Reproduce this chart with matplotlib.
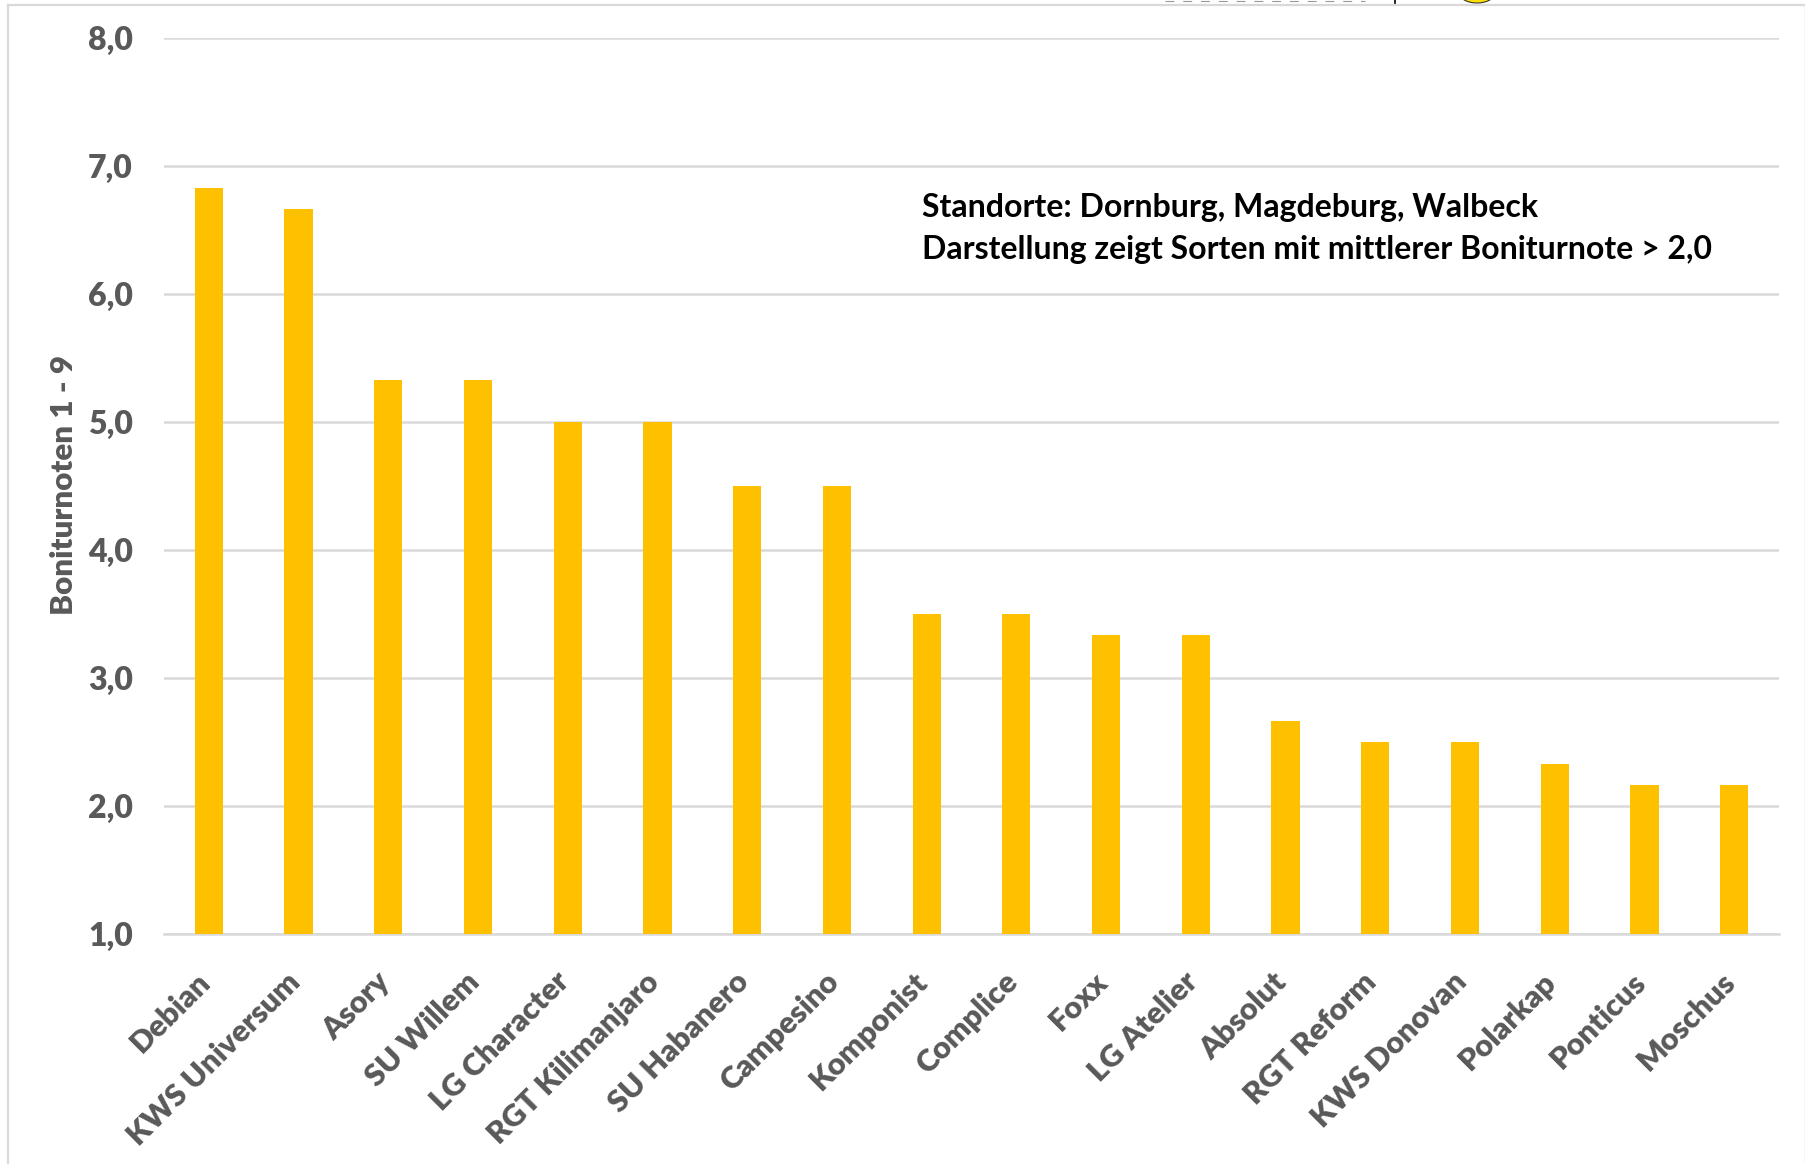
import matplotlib
matplotlib.use('Agg')
import matplotlib.pyplot as plt
from matplotlib.lines import Line2D
from matplotlib.patches import Ellipse
from matplotlib.transforms import ScaledTranslation

sorten = ['Debian', 'KWS Universum', 'Asory', 'SU Willem', 'LG Character',
          'RGT Kilimanjaro', 'SU Habanero', 'Campesino', 'Komponist', 'Complice',
          'Foxx', 'LG Atelier', 'Absolut', 'RGT Reform', 'KWS Donovan',
          'Polarkap', 'Ponticus', 'Moschus']
noten = [6.83, 6.665, 5.33, 5.33, 5.0, 5.0, 4.5, 4.5, 3.5, 3.5,
         3.335, 3.335, 2.665, 2.5, 2.5, 2.33, 2.165, 2.165]
yticks = [1, 2, 3, 4, 5, 6, 7, 8]
ylabels = ['1,0', '2,0', '3,0', '4,0', '5,0', '6,0', '7,0', '8,0']

W, H = 1806, 1164
plt.rcParams['font.family'] = ['Lato', 'DejaVu Sans']
grau = '#595959'
linie = '#D9D9D9'

fig = plt.figure(figsize=(W / 100, H / 100), dpi=100)
ax = fig.add_axes([164 / W, 1 - 934 / H, (1779 - 164) / W, (934 - 38) / H])

ax.bar(range(len(noten)), noten, width=0.315, color='#FFC000', zorder=3)
ax.set_xlim(-0.5, 17.5)
ax.set_ylim(1, 8)

ax.set_yticks(yticks)
ax.set_yticklabels(ylabels, fontsize=23, fontweight='heavy', color=grau)
ax.set_xticks(range(len(sorten)))
ax.set_xticklabels(sorten, fontsize=22.2, fontweight='heavy', color=grau,
                   rotation=45, ha='right', va='top', rotation_mode='anchor')
ax.tick_params(axis='y', length=0, pad=22.5)
ax.tick_params(axis='x', length=0, pad=24)
# labels etwas nach links
versatz = ScaledTranslation(-13 / 100, 0, fig.dpi_scale_trans)
for lab in ax.get_xticklabels():
    lab.set_transform(lab.get_transform() + versatz)
ax.grid(axis='y', color=linie, lw=1.8, zorder=0)
for s in ['top', 'right', 'left']:
    ax.spines[s].set_visible(False)
ax.spines['bottom'].set_color(linie)
ax.spines['bottom'].set_linewidth(1.8)

fig.text(64 / W, 1 - 485 / H, 'Boniturnoten 1 - 9', rotation=90, fontsize=22.6,
         fontweight='heavy', color=grau, ha='center', va='center')
fig.text(922 / W, 1 - 207 / H, 'Standorte: Dornburg, Magdeburg, Walbeck', fontsize=23,
         fontweight='bold', color='black', ha='left', va='center')
fig.text(922 / W, 1 - 249 / H, 'Darstellung zeigt Sorten mit mittlerer Boniturnote > 2,0',
         fontsize=23, fontweight='bold', color='black', ha='left', va='center')

# rahmen vom screenshot
fig.add_artist(Line2D([8 / W, 8 / W], [0, 1 - 5 / H], color=linie, lw=1.6))
fig.add_artist(Line2D([8 / W, 1], [1 - 5 / H, 1 - 5 / H], color=linie, lw=1.6))
fig.add_artist(Line2D([1805 / W, 1805 / W], [0, 1 - 5 / H], color=linie, lw=1))

# reste oben abgeschnitten
fig.add_artist(Line2D([1165 / W, 1365 / W], [1 - 1 / H, 1 - 1 / H], color='#999999', lw=0.8,
                      ls=(0, (8, 8))))
fig.add_artist(Line2D([1395 / W, 1395 / W], [1 - 3 / H, 1], color='black', lw=1.2))
fig.add_artist(Ellipse((1477 / W, 1 + 6 / H), 34 / W, 18 / H, facecolor='#FFE000',
                       edgecolor='#333333', lw=0.8))

fig.savefig('out.png', dpi=100)
